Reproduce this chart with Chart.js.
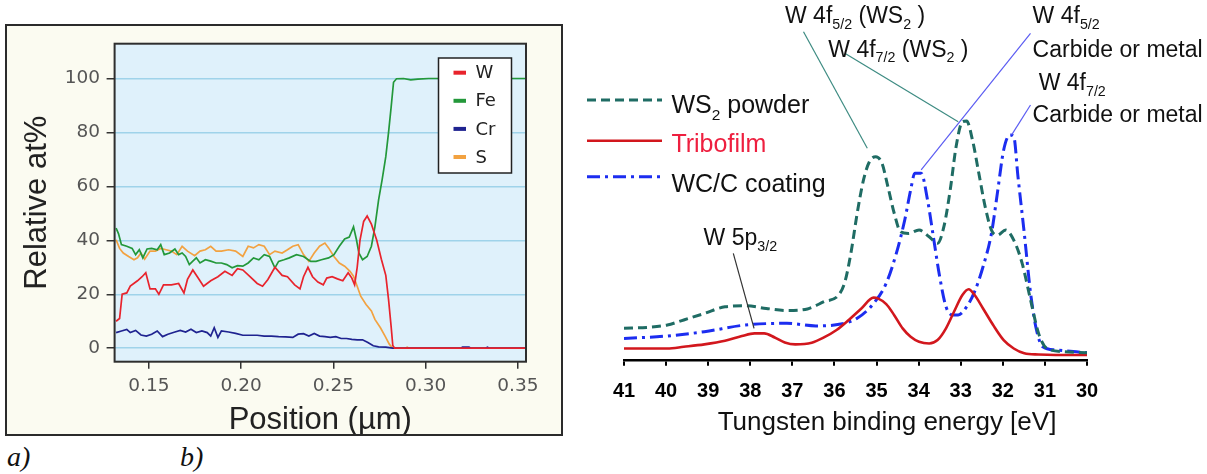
<!DOCTYPE html>
<html>
<head>
<meta charset="utf-8">
<title>W depth profile and W 4f XPS spectra</title>
<script src="https://cdn.jsdelivr.net/npm/chart.js@4.4.1/dist/chart.umd.min.js"></script>
<style>
  html, body { margin: 0; padding: 0; background: #fff; }
  body { width: 1207px; height: 474px; position: relative; overflow: hidden; }
  #panelA { position: absolute; left: 5px; top: 24px; width: 558px; height: 412px; box-sizing: border-box;
            border: 2px solid #2b2b2b; background: #fbfbf1; }
  #chartA { position: absolute; left: 0; top: 0; }
  #chartB { position: absolute; left: 565px; top: 0; }
  .tag { position: absolute; top: 443px; font: italic 28px/28px "Liberation Serif", "Times New Roman", serif; color: #111; }
</style>
</head>
<body>
<div id="panelA"><canvas id="chartA" width="554" height="408"></canvas></div>
<canvas id="chartB" width="642" height="474"></canvas>
<div class="tag" style="left:7px">a)</div>
<div class="tag" style="left:180px">b)</div>

<script>
// ---------- (a) depth profile: relative at% against position ----------
const wPos = [0.1322,0.1341,0.1355,0.1380,0.1399,0.1438,0.1463,0.1483,0.1506,0.1535,
              0.1554,0.1579,0.1622,0.1661,0.1690,0.1709,0.1738,0.1767,0.1796,0.1835,
              0.1874,0.1912,0.1951,0.1980,0.2009,0.2048,0.2087,0.2116,0.2145,0.2183,
              0.2222,0.2251,0.2290,0.2319,0.2338,0.2362,0.2387,0.2416,0.2445,0.2464,
              0.2493,0.2522,0.2551,0.2580,0.2600,0.2615,0.2629,0.2644,0.2664,0.2683,
              0.2706,0.2735,0.2760,0.2784,0.2799,0.2813,0.2822,0.2832,0.3544];
const wAt  = [10,11,20,20.5,23,25,26.5,28,22,22,
              20,23.5,23.5,24,20.5,25.5,29,26,23,25,
              26.5,28.5,27,29.5,29,26.5,24,23,25.5,30,
              27,26.5,23.5,22,26.5,30,26.5,24.5,23.5,26,
              26.5,25.7,25,28,26,23.5,30,40,47,49,
              46,40,33,27,18,8,1,0,0];

const fePos = [0.1322,0.1335,0.1351,0.1380,0.1409,0.1428,0.1448,0.1467,0.1490,0.1515,
               0.1545,0.1564,0.1583,0.1612,0.1641,0.1661,0.1680,0.1699,0.1719,0.1738,
               0.1757,0.1777,0.1806,0.1835,0.1864,0.1893,0.1922,0.1951,0.1980,0.2009,
               0.2038,0.2067,0.2096,0.2125,0.2154,0.2183,0.2203,0.2232,0.2261,0.2300,
               0.2338,0.2377,0.2406,0.2435,0.2474,0.2503,0.2532,0.2561,0.2586,0.2609,
               0.2625,0.2638,0.2658,0.2683,0.2706,0.2725,0.2745,0.2764,0.2784,0.2799,
               0.2813,0.2826,0.2842,0.2880,0.2919,0.2958,0.3016,0.3544];
const feAt  = [44.5,42.5,38.4,37.8,37,34.7,36.5,33.5,36.8,37,
               36.5,38.4,34.7,35.3,36.8,34.7,35.3,34,31,32.3,
               33.5,31.6,32.8,32.3,31.6,31.6,31,29.8,30.6,30.4,
               31.6,33.5,32.8,34.7,34,29.8,32.2,32.8,33.5,34.7,
               34,32.2,32.2,32.8,33.5,34.7,37.8,40.5,41.2,45,
               40.2,35.3,32.8,34,37.8,45,55,62.4,71,80,
               89.4,98.6,99.9,100,99.5,99.8,100,100];

const crPos = [0.1322,0.1351,0.1380,0.1399,0.1428,0.1457,0.1486,0.1515,0.1545,0.1574,
               0.1603,0.1641,0.1670,0.1699,0.1728,0.1757,0.1787,0.1816,0.1835,0.1854,
               0.1874,0.1893,0.1932,0.1970,0.2009,0.2048,0.2087,0.2125,0.2164,0.2203,
               0.2241,0.2280,0.2309,0.2338,0.2367,0.2396,0.2425,0.2454,0.2483,0.2513,
               0.2542,0.2571,0.2600,0.2629,0.2658,0.2687,0.2716,0.2745,0.2784,0.2822,
               0.3190,0.3200,0.3235,0.3245,0.3325,0.3335,0.3345,0.3544];
const crAt  = [5.8,6.4,7,5.8,6.6,4.9,4.5,5.2,6.4,4.3,
               5.2,6,6.6,6,7,5.8,6.4,5.8,4.5,7.6,
               4,6.4,6,5.5,4.8,4.8,4.8,4.5,4.5,4.3,
               4.2,4,5.2,5.4,4.5,5.5,4.5,4.3,4,4.3,
               3.6,3.6,3.3,3.1,3.1,2.1,0.9,0.5,0.4,0,
               0,0.4,0.4,0,0,0.4,0,0];

const sPos = [0.1322,0.1341,0.1361,0.1390,0.1419,0.1438,0.1457,0.1477,0.1506,0.1535,
              0.1564,0.1593,0.1622,0.1651,0.1680,0.1709,0.1748,0.1777,0.1806,0.1835,
              0.1864,0.1893,0.1932,0.1970,0.2009,0.2038,0.2067,0.2096,0.2125,0.2154,
              0.2183,0.2222,0.2251,0.2280,0.2309,0.2338,0.2367,0.2396,0.2425,0.2454,
              0.2474,0.2503,0.2532,0.2561,0.2590,0.2609,0.2629,0.2648,0.2677,0.2706,
              0.2725,0.2755,0.2780,0.2803,0.2822,0.2890,0.2900,0.2910,0.3544];
const sAt  = [40.2,37,35.3,34,32.8,33.5,35.3,33,36,36,
              37,36.5,36,34.7,37.8,36,34.3,36,36.5,37.8,
              36,36,36.5,36,34,37.8,37.2,38.4,37.8,34.7,
              36,35.3,36.5,37.8,38.4,34.7,32.2,35.3,37.8,39,
              37.2,34,31.6,30.4,28.5,26.7,23,19.3,16.2,13.8,
              10.7,7.6,4.5,1.5,0,0,0.4,0,0];

const elementNames = ['W', 'Fe', 'Cr', 'S'];
const positionTicks = [0.15, 0.20, 0.25, 0.30, 0.35];
const atTicks = [0, 20, 40, 60, 80, 100];

// ---------- (b) W 4f / W 5p region, intensity in arbitrary units ----------
const ws2Energy = [41,40.46,39.97,39.58,39.09,38.6,38.11,37.62,37.13,36.64,
                   36.25,35.9,35.75,35.61,35.46,35.31,35.17,35.02,34.87,34.73,
                   34.58,34.43,34.24,33.99,33.75,33.55,33.4,33.25,33.11,32.96,
                   32.86,32.72,32.57,32.42,32.27,32.13,31.93,31.74,31.54,31.34,
                   31.15,30.95,30.56,30];
const ws2Counts = [13.5,13.9,14.9,17,19.7,22.5,22.9,21.8,20.9,21.6,
                   24.6,27.4,33,44.8,61.5,75.4,83,85.1,82.3,72.6,
                   61.5,53.8,53.1,54.5,51.7,49,55.9,71.2,89.3,99.7,
                   100,92,78.2,64.3,54.5,52.4,54.5,50.3,40.6,25.3,
                   11.4,5.1,3.8,3.3];

const triboEnergy = [41,39.97,39.58,39.09,38.6,38.2,37.9,37.67,37.42,37.18,
                     36.93,36.54,36.25,35.95,35.66,35.36,35.07,34.97,34.77,34.58,
                     34.38,34.19,33.99,33.75,33.55,33.35,33.16,32.96,32.81,32.67,
                     32.47,32.23,31.98,31.74,31.49,31.15,30.75,30];
const triboCounts = [5.1,5.1,5.8,6.8,8.3,10.3,11.4,11.4,9.7,7.6,
                     6.8,7.5,9.7,12.8,17,21.8,26.3,26,23.6,19,
                     13.5,10,7.9,7.2,8.6,13.5,20.4,27.4,29.8,27.4,
                     21.8,14.9,8.6,5.1,3.1,2.6,2.4,2.4];

const wccEnergy = [41,39.97,39.09,38.11,37.13,36.44,35.85,35.46,35.07,34.77,
                   34.53,34.33,34.19,34.09,33.94,33.79,33.65,33.5,33.35,33.2,
                   33.06,32.86,32.67,32.47,32.27,32.13,31.98,31.83,31.74,31.64,
                   31.49,31.34,31.2,31.05,30.75,30];
const wccCounts = [9.3,10.3,12.1,14.9,15.6,14.5,15.3,17.7,23.9,32.3,
                   44.8,58.7,71.2,78.2,78.2,67.2,51.7,35,22.5,19.1,
                   19.1,22.5,28.8,39.2,53.1,69.8,87.9,94.2,93.5,76.8,
                   53.1,28.1,12.8,5.8,4.5,3.3];

const energyTicks = [41, 40, 39, 38, 37, 36, 35, 34, 33, 32, 31, 30];

// peak labels: text runs ([text, isSubscript]) and the spectrum point each leader points at
const peakLabels = [
  { runs: [['W 4f'], ['5/2', 1], [' (WS'], ['2', 1], [' )']], peakEnergy: 35.22, peakCounts: 88.6 },
  { runs: [['W 4f'], ['7/2', 1], [' (WS'], ['2', 1], [' )']], peakEnergy: 33.06, peakCounts: 99.7 },
  { runs: [['W 4f'], ['5/2', 1]], sub2: 'Carbide or metal', peakEnergy: 33.94, peakCounts: 79.6 },
  { runs: [['W 4f'], ['7/2', 1]], sub2: 'Carbide or metal', peakEnergy: 31.79, peakCounts: 94.2 },
  { runs: [['W 5p'], ['3/2', 1]], peakEnergy: 37.91, peakCounts: 13.5 }
];

// ---------- helpers ----------
const SANS = '"Liberation Sans", Arial, Helvetica, sans-serif';
const pts = (xs, ys) => xs.map((v, i) => ({ x: v, y: ys[i] }));

function drawRuns(ctx, runs, x, y, size, color) {
  let cx = x;
  ctx.fillStyle = color;
  ctx.textBaseline = 'alphabetic';
  ctx.textAlign = 'left';
  for (const [t, sub] of runs) {
    const fs = sub ? size * 0.62 : size;
    ctx.font = `${fs}px ${SANS}`;
    ctx.fillText(t, cx, sub ? y + size * 0.25 : y);
    cx += ctx.measureText(t).width;
  }
}

// ---------- chart (a) ----------
const profileFrame = {
  id: 'profileFrame',
  beforeDraw(chart) {
    const { ctx, chartArea: a } = chart;
    ctx.save();
    ctx.fillStyle = '#dff1fb';
    ctx.fillRect(a.left, a.top, a.right - a.left, a.bottom - a.top);
    ctx.restore();
  },
  afterDraw(chart) {
    const { ctx, chartArea: a } = chart;
    ctx.save();
    ctx.strokeStyle = '#2e2e2e';
    ctx.lineWidth = 2;
    ctx.strokeRect(a.left, a.top, a.right - a.left, a.bottom - a.top);

    // legend box
    const bx = 431.5, by = 32, bw = 73, bh = 115;
    ctx.fillStyle = '#ffffff';
    ctx.fillRect(bx, by, bw, bh);
    ctx.lineWidth = 1.5;
    ctx.strokeStyle = '#222';
    ctx.strokeRect(bx, by, bw, bh);
    ctx.font = '18px "DejaVu Sans", Verdana, sans-serif';
    ctx.textBaseline = 'middle';
    ctx.textAlign = 'left';
    chart.data.datasets.forEach((ds, i) => {
      const y = by + 14.7 + i * 28.1;
      ctx.strokeStyle = ds.borderColor;
      ctx.lineWidth = 4;
      ctx.beginPath();
      ctx.moveTo(bx + 15, y);
      ctx.lineTo(bx + 27.5, y);
      ctx.stroke();
      ctx.fillStyle = '#222';
      ctx.fillText(ds.label, bx + 37, y + 1);
    });
    ctx.restore();
  }
};

const profileColors = ['#e8232c', '#23983a', '#1f2390', '#f2a241'];
const profileSeries = [pts(wPos, wAt), pts(fePos, feAt), pts(crPos, crAt), pts(sPos, sAt)];

new Chart(document.getElementById('chartA'), {
  type: 'line',
  data: {
    datasets: profileSeries.map((d, i) => ({
      label: elementNames[i],
      data: d,
      borderColor: profileColors[i],
      borderWidth: 1.7,
      pointRadius: 0,
      tension: 0,
      fill: false
    }))
  },
  options: {
    responsive: false,
    animation: false,
    devicePixelRatio: 1,
    layout: { padding: { left: 0, right: 35, top: 17.5, bottom: 0 } },
    plugins: { legend: { display: false }, tooltip: { enabled: false } },
    scales: {
      x: {
        type: 'linear', min: 0.1314, max: 0.3544,
        afterBuildTicks: s => { s.ticks = positionTicks.map(v => ({ value: v })); },
        afterFit: s => { s.height = 72.3; },
        border: { display: false },
        grid: { drawOnChartArea: false, drawTicks: true, tickLength: 7, color: '#333', lineWidth: 1.5 },
        ticks: {
          color: '#555', padding: 6.5, maxRotation: 0, autoSkip: false,
          font: { family: '"DejaVu Sans", Verdana, sans-serif', size: 18.5 },
          callback: v => v.toFixed(2)
        },
        title: {
          display: true, text: 'Position (µm)', color: '#222',
          font: { family: SANS, size: 31, lineHeight: 1 },
          padding: { top: 0, bottom: -2 }
        }
      },
      y: {
        min: -5, max: 112.9,
        afterBuildTicks: s => { s.ticks = atTicks.map(v => ({ value: v })); },
        afterFit: s => { s.width = 107.6; },
        border: { display: false },
        grid: { color: '#9fd3ea', lineWidth: 1.5, drawTicks: true, tickLength: 8, tickColor: '#333' },
        ticks: {
          color: '#555', padding: 6.6,
          font: { family: '"DejaVu Sans", Verdana, sans-serif', size: 18.5 }
        },
        title: {
          display: true, text: 'Relative at%', color: '#222',
          font: { family: SANS, size: 31, lineHeight: 1 },
          padding: { top: 15, bottom: 0 }
        }
      }
    }
  },
  plugins: [profileFrame]
});

// ---------- chart (b) ----------
const spectrumNotes = {
  id: 'spectrumNotes',
  afterDraw(chart) {
    const { ctx } = chart;
    const xs = chart.scales.x, ys = chart.scales.y;
    ctx.save();

    // leader lines from each label to its peak
    const leaders = [
      { from: [238.5, 31.7], color: '#3d8b82' },
      { from: [279.8, 53.3], color: '#3d8b82' },
      { from: [465.5, 33.3], color: '#5b5cf2' },
      { from: [465.5, 105],  color: '#5b5cf2' },
      { from: [168.3, 253.3], color: '#333333' }
    ];
    peakLabels.forEach((p, i) => {
      const l = leaders[i];
      ctx.strokeStyle = l.color;
      ctx.lineWidth = 1.2;
      ctx.setLineDash([]);
      ctx.beginPath();
      ctx.moveTo(l.from[0], l.from[1]);
      ctx.lineTo(xs.getPixelForValue(p.peakEnergy), ys.getPixelForValue(p.peakCounts));
      ctx.stroke();
    });

    // label text
    const textAt = [[220, 23], [263.3, 56.7], [467.6, 23], [473.7, 90], [138.6, 245]];
    const secondLine = [null, null, [467.6, 56.7], [467.6, 121.7], null];
    peakLabels.forEach((p, i) => {
      drawRuns(ctx, p.runs, textAt[i][0], textAt[i][1], 23, '#111');
      if (p.sub2) drawRuns(ctx, [[p.sub2]], secondLine[i][0], secondLine[i][1], 23, '#111');
    });

    // legend
    const legendRows = [
      { runs: [['WS'], ['2', 1], [' powder']], color: '#111', lineY: 100, textY: 113.3 },
      { runs: [['Tribofilm']], color: '#ee1f3f', lineY: 140.7, textY: 151.7 },
      { runs: [['WC/C coating']], color: '#111', lineY: 176.7, textY: 191.7 }
    ];
    legendRows.forEach((r, i) => {
      const ds = chart.data.datasets[i];
      ctx.strokeStyle = ds.borderColor;
      ctx.lineWidth = ds.borderWidth;
      ctx.setLineDash(ds.borderDash || []);
      ctx.beginPath();
      ctx.moveTo(22, r.lineY);
      ctx.lineTo(97, r.lineY);
      ctx.stroke();
      ctx.setLineDash([]);
      drawRuns(ctx, r.runs, 106.4, r.textY, 25, r.color);
    });

    // axis title
    ctx.font = `26px ${SANS}`;
    ctx.fillStyle = '#111';
    ctx.textAlign = 'center';
    ctx.textBaseline = 'alphabetic';
    ctx.fillText('Tungsten binding energy [eV]', 322, 430);
    ctx.restore();
  }
};

new Chart(document.getElementById('chartB'), {
  type: 'line',
  data: {
    datasets: [
      { label: 'WS2 powder', data: pts(ws2Energy, ws2Counts), borderColor: '#1f6c64',
        borderWidth: 3, borderDash: [9, 5], pointRadius: 0, tension: 0.4, cubicInterpolationMode: 'monotone', fill: false },
      { label: 'Tribofilm', data: pts(triboEnergy, triboCounts), borderColor: '#d2171d',
        borderWidth: 2.6, pointRadius: 0, tension: 0.4, cubicInterpolationMode: 'monotone', fill: false },
      { label: 'WC/C coating', data: pts(wccEnergy, wccCounts), borderColor: '#1c2df0',
        borderWidth: 3, borderDash: [13, 5, 3, 5], pointRadius: 0, tension: 0.4, cubicInterpolationMode: 'monotone', fill: false }
    ]
  },
  options: {
    responsive: false,
    animation: false,
    devicePixelRatio: 1,
    layout: { padding: { left: 59, right: 120, top: 10, bottom: 0 } },
    plugins: { legend: { display: false }, tooltip: { enabled: false } },
    scales: {
      x: {
        type: 'linear', reverse: true, min: 30, max: 41,
        afterBuildTicks: s => { s.ticks = energyTicks.map(v => ({ value: v })); },
        afterFit: s => { s.height = 113.3; },
        border: { display: true, color: '#000', width: 2.5 },
        grid: { drawOnChartArea: false, drawTicks: true, tickLength: 5, color: '#000', lineWidth: 2 },
        ticks: {
          color: '#000', padding: 14, maxRotation: 0, autoSkip: false,
          font: { family: SANS, size: 20, weight: 'bold' }
        },
        title: { display: false }
      },
      y: { display: false, min: 0, max: 146.3 }
    }
  },
  plugins: [spectrumNotes]
});
</script>
</body>
</html>
